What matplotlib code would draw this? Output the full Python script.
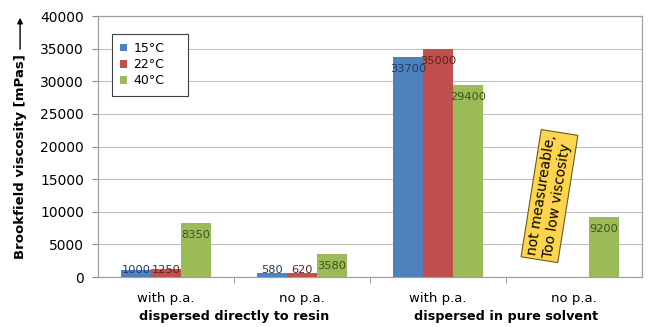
import numpy as np
import matplotlib.pyplot as plt
from matplotlib.patches import FancyArrowPatch

# viscosity readings per temperature for each sample preparation
categories = ['with p.a.', 'no p.a.', 'with p.a.', 'no p.a.']
groups = ['dispersed directly to resin', 'dispersed in pure solvent']
temps = ['15°C', '22°C', '40°C']
visc_15 = [1000, 580, 33700, np.nan]
visc_22 = [1250, 620, 35000, np.nan]
visc_40 = [8350, 3580, 29400, 9200]

bar_colors = ['#4F81BD', '#C0504D', '#9BBB59']
label_colors = ['#1F3A60', '#5E1F1D', '#3F5217']

plt.rcParams['font.family'] = ['DejaVu Sans']

fig = plt.figure(figsize=(6.48, 3.27), dpi=100)
ax = fig.add_axes([0.1512, 0.1529, 0.8395, 0.7981])

x = np.arange(len(categories))
w = 0.22
series = [visc_15, visc_22, visc_40]
for i, vals in enumerate(series):
    pos = x + (i - 1) * w
    vals = np.array(vals, dtype=float)
    ok = ~np.isnan(vals)
    ax.bar(pos[ok], vals[ok], w, color=bar_colors[i], label=temps[i], zorder=3)
    for px, v in zip(pos[ok], vals[ok]):
        ytxt = max(v - 1850, 1000)
        ax.text(px, ytxt, f'{int(v)}', ha='center', va='center',
                fontsize=8.2, color=label_colors[i], zorder=4)

ax.set_xlim(-0.5, 3.5)
ax.set_ylim(0, 40000)
ax.set_yticks(np.arange(0, 40001, 5000))
ax.tick_params(axis='y', labelsize=10, length=4, color='#888888', pad=6)
ax.grid(axis='y', color='#BFBFBF', linewidth=0.8, zorder=0)

ax.set_xticks(x)
ax.set_xticklabels(categories, fontsize=9.5)
ax.set_xticks([0.5, 1.5, 2.5], minor=True)
ax.tick_params(axis='x', which='major', length=0, pad=11)
ax.tick_params(axis='x', which='minor', length=4, color='#888888')

for s in ax.spines.values():
    s.set_color('#A0A0A0')
    s.set_linewidth(0.9)

# group captions under the category labels
for gx, g in zip([0.5, 2.5], groups):
    ax.text(gx, -0.15, g, transform=ax.get_xaxis_transform(), ha='center',
            va='center', fontsize=9.2, fontweight='bold')

# y axis caption with arrow
fig.text(0.031, 1 - 157 / 327, 'Brookfield viscosity [mPas]', rotation=90,
         ha='center', va='center', fontsize=9.5, fontweight='bold')
fig.add_artist(FancyArrowPatch(
    (0.031, 1 - 52 / 327), (0.031, 1 - 15 / 327), transform=fig.transFigure,
    arrowstyle='-|>', mutation_scale=8, color='black', linewidth=1))

leg = ax.legend(loc='upper left', bbox_to_anchor=(0.026, 0.931, 0.14, 0.0),
                mode='expand', borderaxespad=0, fontsize=9,
                handlelength=0.55, handleheight=0.55, handletextpad=0.5,
                labelspacing=0.25, borderpad=0.65, fancybox=False, framealpha=1)
leg.get_frame().set_edgecolor('#404040')
leg.get_frame().set_linewidth(0.8)

ax.text(2.82, 12400, 'not measureable,\nToo low viscosity', rotation=81,
        rotation_mode='anchor', ha='center', va='center', multialignment='left',
        fontsize=10, zorder=5,
        bbox=dict(boxstyle='square,pad=0.25', facecolor='#FFD54F',
                  edgecolor='#6B5A1E', linewidth=0.8))

fig.savefig('out.png', dpi=100)
